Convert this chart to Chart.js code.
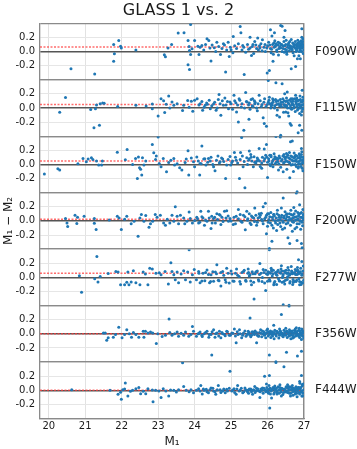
<!DOCTYPE html>
<html>
<head>
<meta charset="utf-8">
<script src="https://cdn.jsdelivr.net/npm/chart.js@4.4.1/dist/chart.umd.min.js"></script>
<style>
  html, body { margin: 0; padding: 0; background: #fff; }
  #wrap { width: 357px; height: 449px; }
</style>
</head>
<body>
<div id="wrap"><canvas id="glassChart" width="357" height="449"></canvas></div>
<script>
// 1. Data: M1 and M1 - M2 pairs per filter
const filters = ['F090W', 'F115W', 'F150W', 'F200W', 'F277W', 'F356W', 'F444W'];
const offsets = [0.063, 0.05, 0.047, 0.022, 0.057, 0.0, 0.0]; // red dashed lines
const xTicks = [20, 21, 22, 23, 24, 25, 26, 27];
const yTicks = [-0.4, -0.2, 0, 0.2, 0.4];
const xMin = 19.76, xMax = 27;
const yMin = -0.4, yMax = 0.4;

const f090w = [
  [20.61,-0.245],[21.26,-0.32],[21.78,0.10],[21.92,0.155],[21.97,0.075],[21.99,0.047],[21.8,-0.033],[21.78,-0.14],
  [22.39,0.02],[23.17,-0.047],[23.2,-0.075],[23.27,0.047],[23.37,0.1],[23.55,0.26],[23.71,0.265],[23.89,0.38],
  [23.82,0.155],[23.85,0.07],[23.86,0.014],[23.89,-0.042],[23.82,-0.19],[23.86,-0.255],[24.0,0.155],[23.93,0.038],
  [24.09,0.075],[24.12,-0.042],[24.2,0.085],[24.34,0.18],[24.39,0.155],[24.45,-0.137],[24.54,0.052],[24.61,0.13],
  [24.71,-0.042],[24.79,0.108],[24.85,-0.29],[24.92,0.13],[24.95,-0.07],[25.0,0.024],[25.06,0.21],[25.25,0.353],
  [25.27,0.264],[25.36,-0.325],[25.32,0.085],[25.4,-0.01],[25.52,0.2],[25.56,-0.056],[25.65,0.14],[25.73,0.19],
  [25.79,0.047],[25.86,0.165],[25.99,-0.306],[26.05,-0.27],[26.08,0.306],[26.12,0.217],[26.15,-0.14],[26.19,0.264],
  [26.22,0.085],[26.36,0.367],[26.4,0.358],[26.45,0.2],[26.48,0.297],[26.52,-0.01],[26.65,-0.245],[26.77,-0.212],
  [26.82,-0.104],[26.9,-0.104],[26.94,0.32],[26.94,0.2],
  [24.15,0.06],[24.25,0.02],[24.3,0.1],[24.42,0.05],[24.48,0.09],[24.58,0.0],[24.66,0.07],[24.75,0.04],[24.82,0.09],
  [24.88,0.02],[24.98,0.06],[25.05,-0.02],[25.1,0.08],[25.15,0.04],[25.2,0.11],[25.3,0.02],[25.35,0.06],[25.45,0.1],
  [25.48,0.03],[25.58,0.07],[25.62,-0.03],[25.68,0.09],[25.75,0.02],[25.82,0.11],[25.9,0.06],[25.94,0.0],[26.0,0.08],
  [26.03,0.13],[26.08,0.04],[26.1,-0.02],[26.14,0.1],[26.18,0.06],[26.2,0.15],[26.25,0.02],[26.28,0.09],[26.3,-0.05],
  [26.33,0.12],[26.36,0.05],[26.4,0.0],[26.42,0.08],[26.45,0.14],[26.48,0.03],[26.5,0.1],[26.53,-0.04],[26.55,0.06],
  [26.58,0.12],[26.6,0.01],[26.62,0.08],[26.65,0.17],[26.67,0.04],[26.7,-0.02],[26.72,0.1],[26.74,0.06],[26.76,0.14],
  [26.78,0.0],[26.8,0.08],[26.82,0.04],[26.84,0.12],[26.86,-0.06],[26.88,0.07],[26.9,0.02],[26.92,0.15],[26.94,0.05],
  [26.96,0.1],[26.98,-0.03],[26.99,0.08],[26.97,0.18],[26.91,0.11],[26.87,0.0],[26.83,0.16],[26.79,0.05],[26.73,-0.06],
  [26.69,0.12],[26.63,0.04],[26.57,0.09],[26.51,0.16],[26.46,-0.01],[26.39,0.1],[26.31,0.04],[26.23,0.11],[26.16,-0.04],
  [25.52,0.05],[25.6,0.1],[25.7,0.04],[25.78,0.08],[25.85,0.01],[25.93,0.1],[25.98,0.05],[26.06,0.09],[26.11,0.03],
  [26.17,0.12],[26.21,0.07],[26.26,0.0],[26.29,0.13],[26.34,0.07],[26.37,0.1],[26.43,0.04],[26.47,0.08],[26.52,0.02],
  [26.56,0.1],[26.59,0.05],[26.61,0.14],[26.64,0.07],[26.68,0.02],[26.71,0.07],[26.75,0.1],[26.77,0.04],[26.81,0.11],
  [26.85,0.07],[26.87,0.13],[26.89,0.04],[26.91,0.08],[26.93,0.0],[26.95,0.12],[26.97,0.06],[26.99,0.02],[26.96,0.14],
  [26.92,0.06],[26.86,0.1],[26.8,0.01],[26.73,0.09]
];

const f115w = [
  [20.3,-0.06],[20.46,0.146],[21.15,-0.024],[21.24,-0.28],[21.28,-0.01],[21.31,0.042],[21.39,-0.245],[21.41,0.06],
  [21.48,0.07],[21.52,0.066],[21.89,0.02],[22.39,0.038],[22.67,0.028],[22.84,0.056],[22.84,-0.01],[23.0,-0.113],
  [23.08,0.13],[23.15,0.1],[23.18,-0.066],[23.22,0.052],[23.29,0.17],[23.32,0.0],[23.38,0.085],[23.43,0.038],
  [23.52,0.06],[23.67,-0.038],[23.7,0.038],[23.81,0.104],[23.85,0.01],[23.91,0.094],[23.95,-0.047],[24.0,0.108],
  [24.07,0.13],[24.15,0.06],[24.22,-0.033],[24.29,0.038],[24.35,0.052],[24.43,-0.01],[24.52,0.056],[24.59,-0.033],
  [24.65,0.12],[24.67,0.19],[24.72,-0.104],[24.79,0.038],[24.83,0.14],[24.93,-0.01],[24.97,0.085],[25.08,0.18],
  [25.13,0.075],[25.15,-0.056],[25.2,-0.2],[25.24,0.108],[25.28,0.014],[25.35,-0.315],[25.4,0.217],[25.44,0.085],
  [25.49,-0.16],[25.52,-0.02],[25.59,0.13],[25.65,0.06],[25.7,0.0],[25.77,0.18],[25.88,-0.14],[25.91,-0.22],
  [25.97,-0.26],[26.02,0.39],[26.06,0.06],[26.14,0.13],[26.23,0.358],[26.26,-0.104],[26.33,-0.127],[26.4,0.344],
  [26.47,0.2],[26.5,-0.056],[26.54,0.226],[26.58,-0.113],[26.62,-0.22],[26.65,-0.245],[26.68,0.13],[26.36,-0.386],
  [26.77,0.18],[26.84,-0.35],[26.88,-0.245],[26.94,-0.315],[26.95,0.25],
  [24.12,0.04],[24.2,0.09],[24.26,0.01],[24.33,0.07],[24.4,0.11],[24.47,0.03],[24.55,0.08],[24.62,0.0],[24.7,0.06],
  [24.76,0.1],[24.86,0.04],[24.9,0.09],[25.0,0.06],[25.04,-0.02],[25.1,0.1],[25.18,0.04],[25.22,0.13],[25.3,0.06],
  [25.37,0.0],[25.42,0.09],[25.48,0.04],[25.55,0.12],[25.6,0.02],[25.66,0.08],[25.72,-0.04],[25.8,0.1],[25.85,0.05],
  [25.92,0.13],[25.96,0.02],[26.02,0.08],[26.05,0.15],[26.09,0.0],[26.12,0.07],[26.16,0.11],[26.2,0.03],[26.24,0.09],
  [26.27,-0.03],[26.3,0.06],[26.35,0.12],[26.38,0.02],[26.41,0.08],[26.44,-0.06],[26.46,0.1],[26.49,0.04],[26.52,0.14],
  [26.55,0.0],[26.57,0.07],[26.6,0.11],[26.63,0.03],[26.66,-0.02],[26.69,0.09],[26.71,0.05],[26.74,0.13],[26.76,-0.05],
  [26.79,0.07],[26.81,0.02],[26.83,0.1],[26.86,0.05],[26.88,-0.08],[26.9,0.12],[26.92,0.03],[26.94,0.08],[26.96,-0.02],
  [26.98,0.1],[26.99,0.05],[26.97,0.15],[26.93,-0.1],[26.89,0.17],[26.84,-0.01],[26.8,0.14],[26.72,0.0],[26.64,0.13],
  [26.56,-0.07],[26.47,0.02],[26.36,0.05],[26.22,0.12],[26.13,0.04],
  [25.5,0.07],[25.58,0.03],[25.64,0.1],[25.74,0.06],[25.83,0.02],[25.9,0.08],[25.99,0.05],[26.04,0.11],[26.1,0.03],
  [26.15,0.08],[26.19,0.0],[26.25,0.05],[26.29,0.1],[26.33,0.03],[26.37,0.08],[26.42,0.13],[26.45,0.05],[26.5,0.09],
  [26.53,0.03],[26.58,0.06],[26.62,0.0],[26.65,0.09],[26.68,0.05],[26.7,0.12],[26.73,0.02],[26.77,0.09],[26.8,0.05],
  [26.82,-0.03],[26.85,0.11],[26.87,0.06],[26.9,0.0],[26.92,0.09],[26.95,0.04],[26.97,0.11],[26.99,0.0],[26.94,-0.05],
  [26.88,0.03],[26.78,0.12],[26.67,0.06],[26.54,0.1]
];

const f150w = [
  [19.88,-0.137],[20.25,-0.06],[20.3,-0.08],[20.8,0.01],[20.94,0.085],[21.03,0.038],[21.08,0.075],[21.17,0.094],
  [21.21,0.07],[21.31,0.047],[21.37,-0.01],[21.45,-0.01],[21.47,0.047],[21.88,0.174],[22.1,0.066],[22.15,0.212],
  [22.3,0.0],[22.38,0.085],[22.43,-0.2],[22.46,0.104],[22.49,-0.047],[22.52,-0.07],[22.55,-0.15],[22.57,0.094],
  [22.61,-0.01],[22.66,0.047],[22.84,0.283],[22.88,0.165],[22.93,0.07],[22.95,0.12],[23.0,0.39],[23.03,0.014],
  [23.08,-0.033],[23.14,0.085],[23.23,-0.104],[23.29,0.028],[23.35,0.06],[23.43,0.085],[23.45,-0.01],[23.52,0.01],
  [23.59,-0.047],[23.65,-0.08],[23.74,0.028],[23.77,0.075],[23.82,0.193],[23.84,-0.15],[23.91,0.09],[23.97,0.038],
  [24.0,-0.033],[24.06,0.104],[24.14,-0.15],[24.15,0.014],[24.2,0.26],[24.25,0.075],[24.31,-0.01],[24.38,0.085],
  [24.43,0.047],[24.52,-0.033],[24.56,-0.09],[24.64,0.12],[24.7,0.038],[24.77,0.075],[24.85,-0.2],[24.88,-0.01],
  [24.97,0.113],[25.02,0.028],[25.09,0.17],[25.14,0.06],[25.23,-0.2],[25.26,0.17],[25.29,0.38],[25.33,-0.033],
  [25.38,-0.33],[25.43,0.094],[25.5,0.19],[25.54,0.14],[25.61,-0.033],[25.7,0.047],[25.77,0.226],[25.84,-0.056],
  [25.91,0.217],[25.97,0.283],[26.0,-0.184],[26.06,0.13],[26.15,-0.033],[26.23,0.395],[26.29,0.085],[26.35,0.39],
  [26.43,-0.104],[26.52,0.155],[26.61,-0.19],[26.63,0.32],[26.68,0.33],[26.75,0.108],[26.81,-0.386],[26.85,-0.033],
  [26.93,0.226],[26.95,-0.056],
  [24.1,0.05],[24.18,0.01],[24.28,0.08],[24.36,0.03],[24.45,0.1],[24.5,0.0],[24.6,0.06],[24.68,0.02],[24.74,0.09],
  [24.8,0.04],[24.92,0.07],[24.99,-0.01],[25.04,0.05],[25.12,0.1],[25.18,0.02],[25.25,0.07],[25.31,0.12],[25.36,0.04],
  [25.45,0.0],[25.5,0.08],[25.57,0.05],[25.63,0.11],[25.68,0.02],[25.74,0.07],[25.8,-0.03],[25.86,0.1],[25.9,0.05],
  [25.95,0.13],[26.0,0.03],[26.03,0.08],[26.08,-0.02],[26.1,0.11],[26.14,0.05],[26.18,0.15],[26.21,0.01],[26.25,0.09],
  [26.28,0.04],[26.32,0.12],[26.36,-0.04],[26.4,0.07],[26.44,0.02],[26.47,0.1],[26.5,0.05],[26.53,-0.07],[26.56,0.13],
  [26.59,0.03],[26.62,0.08],[26.65,-0.01],[26.68,0.11],[26.7,0.05],[26.73,0.16],[26.76,0.0],[26.78,0.07],[26.81,0.12],
  [26.84,-0.05],[26.86,0.04],[26.89,0.09],[26.91,0.01],[26.93,0.14],[26.95,0.06],[26.97,-0.09],[26.99,0.1],[26.98,0.02],
  [26.94,0.18],[26.87,0.15],[26.79,-0.03],[26.71,-0.1],[26.6,0.17],[26.45,0.14],[26.3,-0.08],[26.2,0.08],[26.06,0.0],
  [25.48,0.06],[25.55,0.1],[25.65,0.03],[25.72,0.09],[25.78,0.05],[25.84,0.02],[25.92,0.08],[25.98,0.1],[26.04,0.05],
  [26.09,0.13],[26.12,0.02],[26.16,0.07],[26.2,0.11],[26.24,0.03],[26.27,0.07],[26.31,0.01],[26.34,0.09],[26.38,0.05],
  [26.42,0.12],[26.46,0.03],[26.49,0.08],[26.52,0.11],[26.55,0.04],[26.58,0.09],[26.61,0.02],[26.64,0.12],[26.67,0.06],
  [26.69,0.0],[26.72,0.09],[26.75,0.05],[26.77,0.13],[26.8,0.04],[26.83,0.09],[26.85,0.01],[26.88,0.12],[26.9,0.06],
  [26.92,-0.03],[26.94,0.1],[26.96,0.03],[26.99,0.07]
];

const f200w = [
  [20.46,0.033],[20.5,-0.028],[20.52,-0.08],[20.72,0.08],[20.77,-0.038],[20.79,0.05],[20.97,0.066],[21.25,0.033],
  [21.25,-0.033],[21.3,-0.122],[21.66,0.014],[21.88,0.066],[21.93,0.042],[21.99,-0.122],[22.08,0.024],[22.14,0.066],
  [22.26,-0.042],[22.34,-0.005],[22.45,-0.217],[22.5,0.042],[22.54,0.09],[22.61,-0.005],[22.66,0.075],[22.75,-0.09],
  [22.79,-0.042],[22.85,-0.005],[22.92,0.09],[22.97,0.052],[23.06,0.08],[23.15,-0.028],[23.2,-0.06],[23.25,0.024],
  [23.32,-0.028],[23.38,0.08],[23.43,-0.005],[23.47,0.2],[23.52,0.066],[23.56,-0.042],[23.61,0.08],[23.7,0.042],
  [23.73,-0.042],[23.79,-0.005],[23.85,0.127],[23.88,0.033],[23.94,-0.028],[24.0,0.005],[24.06,0.052],[24.11,-0.028],
  [24.17,0.136],[24.23,0.042],[24.27,-0.06],[24.34,-0.005],[24.38,0.136],[24.45,-0.108],[24.47,0.066],[24.52,0.033],
  [24.57,-0.028],[24.61,0.1],[24.68,0.09],[24.72,-0.05],[24.75,0.052],[24.82,0.136],[24.88,0.145],[24.93,-0.005],
  [24.97,0.033],[25.06,-0.05],[25.14,0.066],[25.2,0.16],[25.27,-0.005],[25.34,0.08],[25.39,-0.127],[25.43,0.136],
  [25.52,-0.028],[25.59,0.052],[25.65,0.183],[25.7,-0.06],[25.77,0.1],[25.84,0.019],[25.88,0.2],[25.94,0.25],
  [25.97,-0.183],[26.0,-0.075],[26.05,-0.39],[26.12,-0.287],[26.17,0.09],[26.25,-0.136],[26.34,-0.028],[26.38,0.183],
  [26.43,0.325],[26.47,-0.1],[26.56,-0.24],[26.61,-0.32],[26.68,-0.146],[26.72,0.19],[26.79,0.395],[26.81,-0.278],
  [26.88,0.23],[26.93,-0.32],[26.95,-0.38],
  [24.08,0.03],[24.14,-0.02],[24.2,0.06],[24.3,0.01],[24.4,0.04],[24.48,-0.03],[24.55,0.05],[24.63,0.02],[24.7,0.08],
  [24.78,-0.01],[24.86,0.04],[24.92,0.07],[25.0,0.0],[25.08,0.05],[25.12,-0.04],[25.2,0.03],[25.25,0.09],[25.3,-0.02],
  [25.38,0.06],[25.45,0.01],[25.5,0.1],[25.55,-0.05],[25.62,0.04],[25.68,0.08],[25.72,-0.02],[25.78,0.05],[25.83,0.11],
  [25.88,-0.04],[25.92,0.03],[25.97,0.08],[26.02,-0.02],[26.06,0.06],[26.09,0.12],[26.12,-0.06],[26.15,0.02],[26.19,0.07],
  [26.22,-0.03],[26.26,0.1],[26.29,0.01],[26.32,0.05],[26.36,-0.08],[26.39,0.08],[26.42,0.0],[26.45,0.04],[26.48,0.13],
  [26.51,-0.04],[26.54,0.06],[26.57,0.01],[26.6,0.1],[26.63,-0.06],[26.66,0.03],[26.69,0.08],[26.71,-0.02],[26.74,0.05],
  [26.77,0.14],[26.8,-0.09],[26.82,0.02],[26.85,0.07],[26.87,-0.04],[26.9,0.11],[26.92,0.0],[26.94,0.05],[26.96,-0.07],
  [26.98,0.09],[26.99,0.02],[26.97,0.16],[26.91,-0.12],[26.83,0.12],[26.75,-0.11],[26.64,0.15],[26.52,0.09],[26.41,-0.12],
  [26.27,0.15],[26.16,-0.1],[26.03,0.1],
  [25.46,0.03],[25.56,0.07],[25.64,-0.01],[25.74,0.04],[25.8,0.08],[25.86,0.0],[25.95,0.05],[26.0,0.1],[26.04,0.02],
  [26.08,-0.03],[26.13,0.05],[26.17,0.09],[26.21,0.0],[26.24,0.04],[26.28,-0.05],[26.31,0.08],[26.35,0.02],[26.38,0.05],
  [26.43,-0.02],[26.46,0.07],[26.5,0.03],[26.53,0.1],[26.56,-0.03],[26.59,0.05],[26.62,0.02],[26.65,0.09],[26.68,-0.01],
  [26.7,0.04],[26.73,0.1],[26.76,0.01],[26.79,0.06],[26.81,-0.04],[26.84,0.03],[26.86,0.09],[26.89,0.0],[26.91,0.05],
  [26.93,0.12],[26.95,-0.02],[26.97,0.04],[26.99,0.08]
];

const f277w = [
  [20.84,0.024],[20.9,-0.21],[21.26,-0.019],[21.32,0.297],[21.35,-0.066],[21.41,0.014],[21.63,0.056],[21.84,0.085],
  [21.9,0.075],[21.97,-0.104],[22.08,-0.104],[22.14,-0.07],[22.17,0.075],[22.2,-0.104],[22.26,-0.066],[22.32,0.094],
  [22.39,-0.075],[22.5,-0.104],[22.59,0.075],[22.65,0.047],[22.72,-0.104],[22.77,0.13],[22.84,0.118],[22.94,0.06],
  [23.03,0.066],[23.08,0.038],[23.19,0.085],[23.28,-0.094],[23.35,0.207],[23.38,0.085],[23.43,0.038],[23.47,-0.033],
  [23.52,0.075],[23.56,-0.075],[23.63,0.047],[23.7,0.094],[23.75,-0.033],[23.81,0.075],[23.85,0.39],[23.88,-0.066],
  [23.94,0.038],[23.99,0.113],[24.05,-0.033],[24.11,0.085],[24.15,-0.075],[24.23,0.06],[24.28,-0.047],[24.34,0.104],
  [24.41,-0.075],[24.45,0.038],[24.52,-0.056],[24.57,0.075],[24.61,0.18],[24.67,-0.047],[24.72,-0.122],[24.77,0.085],
  [24.84,-0.033],[24.88,0.13],[24.95,-0.08],[25.02,0.047],[25.08,-0.056],[25.15,0.12],[25.22,0.014],[25.26,-0.094],
  [25.34,0.085],[25.41,-0.056],[25.47,0.12],[25.52,0.038],[25.56,-0.104],[25.63,-0.306],[25.68,0.075],[25.75,-0.033],
  [25.79,0.198],[25.86,0.0],[25.95,-0.184],[26.0,-0.056],[26.05,0.39],[26.11,0.104],[26.17,-0.104],[26.25,0.038],
  [26.32,-0.047],[26.38,0.165],[26.43,-0.386],[26.47,-0.094],[26.54,0.06],[26.59,-0.395],[26.65,0.155],[26.72,-0.056],
  [26.79,0.094],[26.85,0.25],[26.88,-0.104],[26.94,0.226],
  [24.12,0.06],[24.2,-0.05],[24.3,0.07],[24.38,0.04],[24.44,-0.06],[24.5,0.08],[24.6,0.05],[24.65,-0.04],[24.72,0.07],
  [24.8,0.03],[24.86,-0.07],[24.92,0.06],[25.0,0.09],[25.05,-0.05],[25.12,0.06],[25.18,0.03],[25.24,-0.06],[25.3,0.07],
  [25.36,0.1],[25.4,-0.04],[25.46,0.06],[25.5,0.02],[25.58,0.08],[25.62,-0.07],[25.66,0.05],[25.72,0.09],[25.76,-0.05],
  [25.82,0.06],[25.88,0.11],[25.92,-0.08],[25.97,0.05],[26.02,0.08],[26.05,-0.03],[26.08,0.06],[26.13,0.02],[26.16,0.1],
  [26.2,-0.06],[26.23,0.05],[26.27,0.08],[26.3,-0.02],[26.34,0.07],[26.37,0.12],[26.4,-0.07],[26.43,0.04],[26.46,0.09],
  [26.49,-0.04],[26.52,0.06],[26.55,0.01],[26.58,0.1],[26.61,-0.08],[26.63,0.05],[26.67,0.08],[26.7,-0.03],[26.73,0.06],
  [26.76,0.11],[26.78,-0.06],[26.81,0.04],[26.84,0.08],[26.86,-0.02],[26.89,0.06],[26.91,0.13],[26.93,-0.07],[26.95,0.05],
  [26.97,0.09],[26.99,-0.04],[26.98,0.16],[26.92,-0.1],[26.82,0.14],[26.69,-0.1],[26.56,0.14],[26.41,0.0],[26.25,-0.1],
  [26.1,0.13],
  [25.48,0.07],[25.54,-0.05],[25.6,0.05],[25.7,0.08],[25.78,0.04],[25.85,-0.06],[25.9,0.07],[25.95,0.1],[26.0,0.04],
  [26.04,0.07],[26.07,-0.05],[26.11,0.09],[26.15,0.05],[26.18,-0.08],[26.22,0.07],[26.26,0.03],[26.29,0.1],[26.33,-0.05],
  [26.36,0.06],[26.39,0.09],[26.42,0.02],[26.45,-0.06],[26.48,0.07],[26.51,0.1],[26.54,-0.03],[26.57,0.06],[26.6,0.03],
  [26.62,-0.06],[26.66,0.09],[26.68,0.05],[26.71,-0.07],[26.74,0.07],[26.77,0.04],[26.8,-0.04],[26.83,0.1],[26.85,0.05],
  [26.88,-0.06],[26.9,0.08],[26.94,0.03],[26.96,-0.08]
];

const f356w = [
  [21.5,0.014],[21.55,0.014],[21.59,-0.09],[21.63,-0.056],[21.77,-0.047],[21.83,-0.01],[21.92,0.094],[22.01,-0.056],
  [22.08,-0.01],[22.14,0.06],[22.21,0.0],[22.27,-0.047],[22.32,0.019],[22.39,-0.01],[22.47,-0.047],[22.59,0.038],
  [22.61,-0.047],[22.65,0.038],[22.72,0.014],[22.79,0.028],[22.85,0.014],[22.95,-0.137],[22.99,0.0],[23.11,-0.038],
  [23.2,-0.02],[23.3,0.21],[23.32,0.019],[23.38,-0.02],[23.45,0.0],[23.52,0.028],[23.56,-0.033],[23.63,0.01],
  [23.7,-0.02],[23.75,0.028],[23.84,-0.033],[23.9,-0.01],[23.94,0.104],[23.97,0.038],[24.05,-0.033],[24.1,0.0],
  [24.15,0.028],[24.21,-0.038],[24.26,0.0],[24.34,0.038],[24.39,-0.047],[24.45,-0.01],[24.47,-0.3],[24.52,0.06],
  [24.56,-0.047],[24.61,0.014],[24.68,0.038],[24.72,-0.056],[24.77,0.0],[24.84,-0.028],[24.88,0.038],[24.95,-0.02],
  [25.02,0.014],[25.09,0.07],[25.14,-0.127],[25.19,-0.01],[25.23,0.06],[25.29,-0.056],[25.34,0.014],[25.41,-0.033],
  [25.47,0.038],[25.52,0.226],[25.56,-0.02],[25.63,0.028],[25.7,-0.127],[25.75,-0.033],[25.81,0.06],[25.88,0.0],
  [25.95,-0.056],[26.05,-0.3],[26.11,-0.01],[26.17,0.122],[26.23,-0.395],[26.26,0.038],[26.38,0.273],[26.43,-0.02],
  [26.52,-0.26],[26.58,0.014],[26.59,0.395],[26.65,0.038],[26.72,-0.047],[26.79,0.085],[26.82,-0.315],[26.85,-0.01],
  [26.93,-0.245],[26.95,0.047],
  [24.12,0.01],[24.2,-0.02],[24.3,0.02],[24.4,-0.01],[24.48,0.03],[24.58,0.0],[24.66,-0.03],[24.75,0.02],[24.82,-0.01],
  [24.9,0.03],[24.98,-0.02],[25.05,0.01],[25.12,-0.03],[25.17,0.03],[25.25,0.0],[25.32,-0.02],[25.38,0.04],[25.44,-0.01],
  [25.5,0.02],[25.54,-0.04],[25.6,0.01],[25.66,0.04],[25.72,-0.02],[25.78,0.02],[25.84,-0.04],[25.9,0.03],[25.93,-0.01],
  [25.98,0.05],[26.02,-0.03],[26.06,0.02],[26.09,-0.05],[26.13,0.03],[26.16,0.0],[26.2,0.05],[26.24,-0.03],[26.28,0.02],
  [26.31,-0.06],[26.35,0.04],[26.38,0.0],[26.41,-0.03],[26.45,0.05],[26.48,-0.01],[26.51,0.03],[26.54,-0.05],[26.57,0.02],
  [26.6,0.06],[26.63,-0.02],[26.66,0.03],[26.69,-0.06],[26.71,0.01],[26.74,0.05],[26.77,-0.03],[26.8,0.02],[26.83,-0.01],
  [26.86,0.05],[26.88,-0.05],[26.9,0.02],[26.92,0.0],[26.94,0.07],[26.96,-0.03],[26.98,0.03],[26.99,-0.06],[26.97,0.01],
  [26.93,-0.08],[26.87,0.08],[26.76,0.07],[26.64,-0.07],[26.5,0.08],[26.33,0.07],[26.18,-0.07],[26.0,0.07],
  [25.46,0.0],[25.52,-0.02],[25.58,0.03],[25.64,-0.01],[25.7,0.02],[25.76,-0.03],[25.82,0.01],[25.86,0.04],[25.91,-0.02],
  [25.96,0.01],[26.01,0.03],[26.04,-0.01],[26.08,0.04],[26.11,0.0],[26.14,-0.03],[26.18,0.02],[26.22,-0.01],[26.25,0.03],
  [26.3,0.01],[26.33,-0.02],[26.36,0.03],[26.4,0.01],[26.43,-0.04],[26.47,0.02],[26.5,-0.02],[26.53,0.04],[26.56,0.0],
  [26.59,-0.03],[26.62,0.03],[26.65,-0.01],[26.68,0.04],[26.7,-0.03],[26.73,0.01],[26.76,0.03],[26.79,-0.02],[26.82,0.04],
  [26.85,-0.03],[26.89,0.04],[26.91,-0.02],[26.95,0.01]
];

const f444w = [
  [20.63,0.01],[21.68,0.0],[21.9,-0.056],[21.97,-0.028],[21.99,-0.127],[22.03,0.01],[22.08,0.019],[22.1,0.104],
  [22.17,-0.08],[22.24,-0.014],[22.3,0.0],[22.39,0.024],[22.47,0.042],[22.52,-0.047],[22.59,-0.014],[22.66,-0.047],
  [22.72,0.024],[22.84,0.005],[22.86,-0.16],[22.93,0.0],[23.02,-0.01],[23.08,-0.1],[23.14,0.024],[23.21,-0.01],
  [23.29,-0.08],[23.34,0.005],[23.43,0.0],[23.5,-0.024],[23.56,0.01],[23.67,0.39],[23.7,0.056],[23.77,0.0],
  [23.85,-0.02],[23.9,0.01],[23.97,-0.033],[24.05,0.0],[24.11,0.024],[24.17,0.07],[24.21,-0.05],[24.26,0.0],
  [24.32,0.015],[24.38,-0.033],[24.45,0.033],[24.52,-0.01],[24.58,-0.056],[24.65,0.07],[24.7,0.01],[24.77,-0.01],
  [24.84,-0.033],[24.88,0.015],[24.97,0.27],[25.02,-0.01],[25.08,0.024],[25.14,-0.056],[25.18,0.07],[25.25,0.0],
  [25.32,-0.033],[25.38,0.033],[25.45,-0.02],[25.52,0.01],[25.59,-0.056],[25.65,0.056],[25.72,0.0],[25.79,-0.1],
  [25.86,0.033],[25.92,0.2],[25.97,0.09],[26.02,-0.033],[26.05,0.21],[26.06,-0.25],[26.11,-0.108],[26.17,0.033],
  [26.23,0.395],[26.26,-0.05],[26.34,0.08],[26.45,0.335],[26.5,-0.02],[26.56,0.056],[26.63,-0.08],[26.7,0.01],
  [26.77,-0.033],[26.84,0.042],[26.88,0.127],[26.93,0.21],[26.94,-0.08],[26.95,0.08],
  [24.15,-0.01],[24.24,0.02],[24.34,-0.02],[24.42,0.01],[24.5,0.03],[24.56,-0.02],[24.62,0.01],[24.72,-0.03],[24.8,0.02],
  [24.9,-0.01],[24.95,0.03],[25.04,0.0],[25.1,-0.03],[25.16,0.02],[25.22,-0.01],[25.28,0.03],[25.35,-0.02],[25.4,0.01],
  [25.48,-0.04],[25.54,0.02],[25.6,0.0],[25.66,-0.03],[25.7,0.03],[25.76,-0.01],[25.82,0.02],[25.88,-0.04],[25.93,0.01],
  [25.98,0.04],[26.02,-0.02],[26.05,0.02],[26.08,-0.05],[26.12,0.01],[26.15,0.04],[26.19,-0.03],[26.22,0.02],[26.26,-0.01],
  [26.29,0.05],[26.32,-0.04],[26.36,0.01],[26.39,0.03],[26.42,-0.06],[26.46,0.02],[26.49,-0.02],[26.52,0.04],[26.55,-0.03],
  [26.58,0.0],[26.61,0.05],[26.64,-0.04],[26.67,0.02],[26.7,-0.07],[26.72,0.03],[26.75,-0.01],[26.78,0.05],[26.8,-0.04],
  [26.83,0.01],[26.86,0.04],[26.88,-0.05],[26.9,0.02],[26.92,-0.02],[26.95,0.06],[26.97,-0.04],[26.99,0.01],[26.98,0.09],
  [26.96,-0.08],[26.89,0.1],[26.81,-0.09],[26.68,0.07],[26.55,0.08],[26.38,-0.08],[26.2,0.06],[26.04,0.07],
  [25.44,0.0],[25.5,0.02],[25.56,-0.02],[25.62,0.01],[25.68,-0.01],[25.74,0.02],[25.8,-0.02],[25.85,0.0],[25.9,0.03],
  [25.95,-0.02],[26.0,0.01],[26.03,-0.04],[26.07,0.03],[26.1,-0.01],[26.14,0.02],[26.17,-0.05],[26.21,0.0],[26.24,0.03],
  [26.27,-0.03],[26.31,0.01],[26.34,0.04],[26.37,-0.02],[26.41,0.02],[26.44,-0.03],[26.48,0.01],[26.51,0.05],[26.54,-0.01],
  [26.57,0.03],[26.6,-0.04],[26.63,0.01],[26.66,0.04],[26.69,-0.02],[26.73,0.01],[26.76,-0.05],[26.79,0.02],[26.82,-0.01],
  [26.85,0.03],[26.87,-0.03],[26.91,0.04],[26.94,-0.01]
];

const panelPoints = [f090w, f115w, f150w, f200w, f277w, f356w, f444w];

// 2. Styles
const FONT = "'DejaVu Sans', sans-serif";
const TEXT = '#1a1a1a';
const DOT = '#1f77b4';

// 3. Clip each panel's marks to its own strip
const panelClip = {
  id: 'panelClip',
  beforeDatasetDraw(chart, args) {
    const scale = chart.scales[args.meta.yAxisID];
    const area = chart.chartArea;
    chart.ctx.save();
    chart.ctx.beginPath();
    chart.ctx.rect(area.left, scale.top, area.right - area.left, scale.bottom - scale.top);
    chart.ctx.clip();
  },
  afterDatasetDraw(chart) {
    chart.ctx.restore();
  }
};

// 4. Scales: shared x, stacked y per filter, stacked filter names on the right
const scales = {
  x: {
    type: 'linear',
    position: 'bottom',
    min: xMin,
    max: xMax,
    afterBuildTicks: s => { s.ticks = xTicks.map(v => ({ value: v })); },
    ticks: { font: { family: FONT, size: 10 }, color: TEXT, padding: 2, autoSkip: false, callback: v => String(v) },
    grid: { color: '#e2e2e2', lineWidth: 1, drawTicks: false },
    border: { color: '#8a8a8a', width: 1.3 },
    title: { display: true, text: 'M₁', font: { family: FONT, size: 12 }, color: TEXT, padding: 0 }
  }
};

// left stack is laid out with the last-defined axis on top, so add them bottom-up
for (let i = filters.length - 1; i >= 0; i--) {
  scales['y' + i] = {
    type: 'linear',
    position: 'left',
    stack: 'panels',
    stackWeight: 1,
    min: yMin,
    max: yMax,
    afterBuildTicks: s => { s.ticks = yTicks.map(v => ({ value: v })); },
    afterFit: s => { s.width = 40; },
    ticks: {
      font: { family: FONT, size: 10 },
      color: TEXT,
      padding: 5,
      autoSkip: false,
      callback: v => (Math.abs(v) > 0.3 ? '' : v.toFixed(1))
    },
    grid: {
      drawTicks: false,
      color: ctx => {
        const v = ctx.tick ? ctx.tick.value : 0;
        if (v === 0) return '#555';
        if (Math.abs(v) > 0.3) return '#8a8a8a';
        return '#e6e6e6';
      },
      lineWidth: ctx => {
        const v = ctx.tick ? ctx.tick.value : 0;
        if (v === 0) return 1.4;
        if (Math.abs(v) > 0.3) return 1.3;
        return 1;
      }
    },
    border: { color: '#8a8a8a', width: 1.3 },
    title: { display: i === 3, text: 'M₁ − M₂', font: { family: FONT, size: 12 }, color: TEXT, padding: 2 }
  };
}

filters.forEach((name, i) => {
  scales['n' + i] = {
    type: 'linear',
    position: 'right',
    stack: 'names',
    stackWeight: 1,
    min: yMin,
    max: yMax,
    afterBuildTicks: s => { s.ticks = [{ value: 0 }]; },
    afterFit: s => { s.width = 53; },
    ticks: { font: { family: FONT, size: 12 }, color: TEXT, padding: 11, callback: () => name },
    grid: { display: false, drawTicks: false },
    border: { display: true, color: '#8a8a8a', width: 1.3 }
  };
});

// 5. Datasets: scatter per filter plus the dashed offset line
const datasets = [];
filters.forEach((name, i) => {
  datasets.push({
    type: 'scatter',
    label: name,
    data: panelPoints[i].map(p => ({ x: p[0], y: p[1] })),
    xAxisID: 'x',
    yAxisID: 'y' + i,
    backgroundColor: DOT,
    borderWidth: 0,
    pointRadius: 1.5,
    order: 1
  });
  datasets.push({
    type: 'line',
    label: name + ' offset',
    data: [{ x: xMin, y: offsets[i] }, { x: xMax, y: offsets[i] }],
    xAxisID: 'x',
    yAxisID: 'y' + i,
    borderColor: 'rgba(255, 60, 60, 0.75)',
    borderWidth: 1.5,
    borderDash: [2, 1.5],
    pointRadius: 0,
    fill: false,
    order: 2
  });
});

// 6. Draw
new Chart(document.getElementById('glassChart'), {
  type: 'scatter',
  data: { datasets },
  options: {
    responsive: false,
    animation: false,
    devicePixelRatio: 1,
    layout: { padding: { left: 0, right: 0, top: 0, bottom: 0 } },
    plugins: {
      legend: { display: false },
      tooltip: { enabled: false },
      title: {
        display: true,
        text: 'GLASS 1 vs. 2',
        font: { family: FONT, size: 16, weight: 'normal' },
        color: TEXT,
        padding: { top: 1, bottom: 3 }
      }
    },
    scales
  },
  plugins: [panelClip]
});
</script>
</body>
</html>
